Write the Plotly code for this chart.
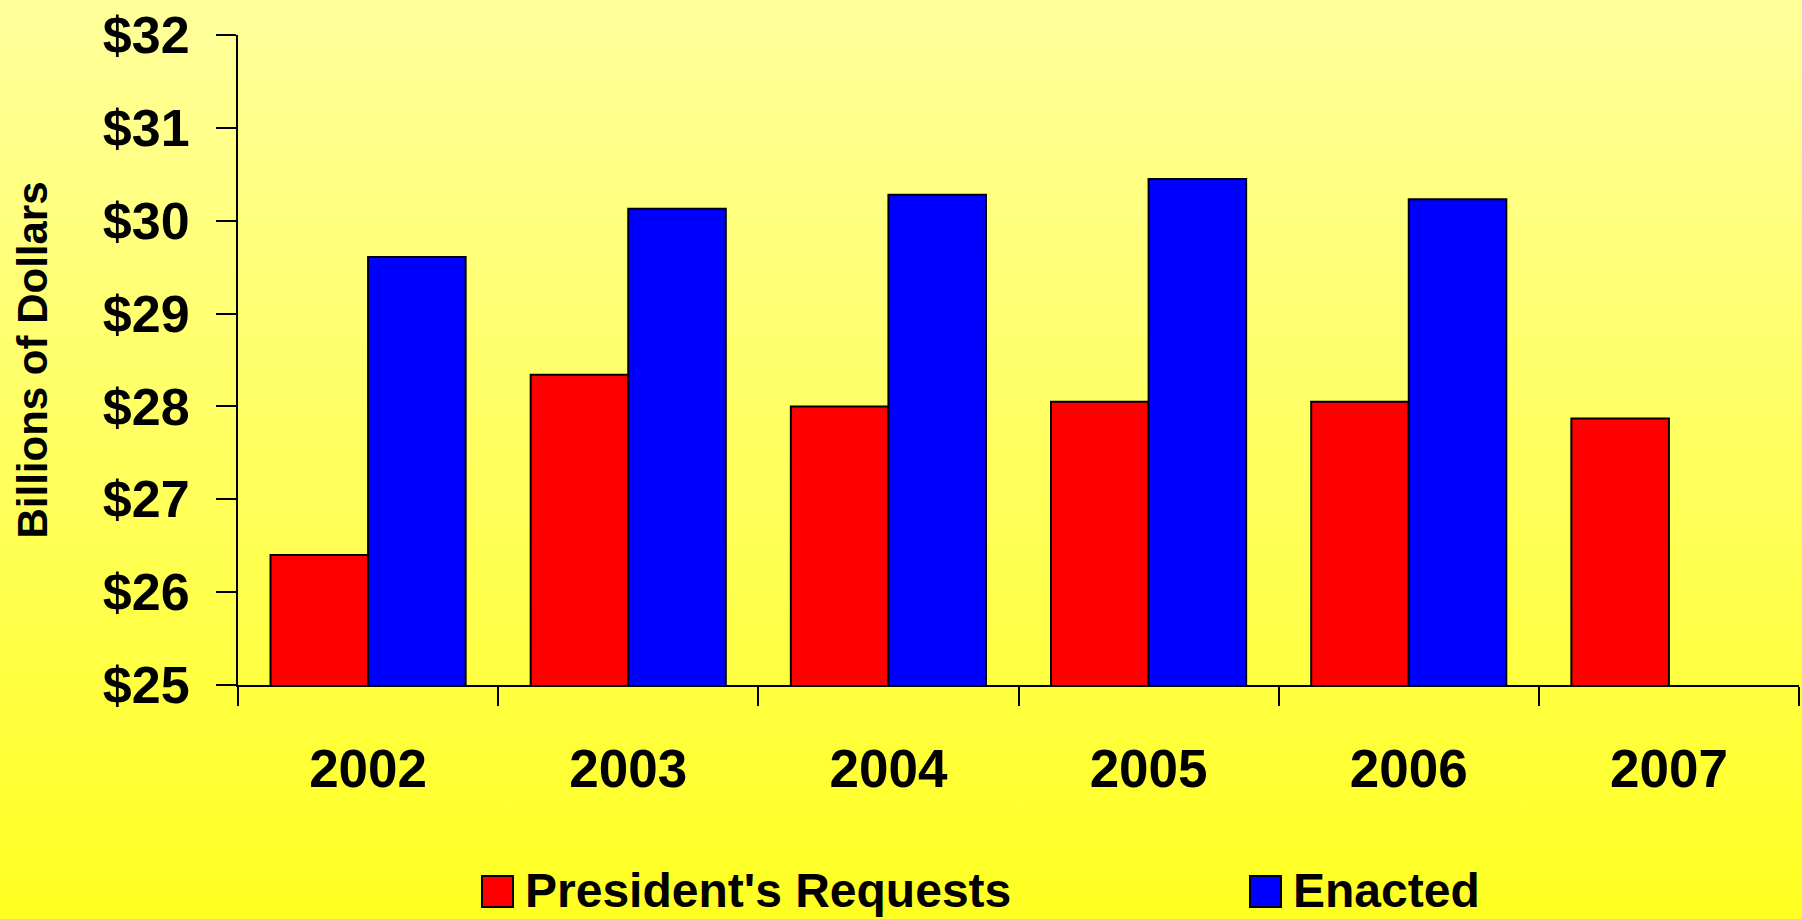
import plotly.graph_objects as go
import urllib.parse

# ---- data ----
years = ["2002", "2003", "2004", "2005", "2006", "2007"]
presidents_requests = [26.40, 28.34, 28.00, 28.05, 28.05, 27.87]
enacted = [29.61, 30.13, 30.28, 30.45, 30.23, None]
series_names = ["President's Requests", "Enacted"]
y_tick_values = [25, 26, 27, 28, 29, 30, 31, 32]
y_tick_labels = ["$25", "$26", "$27", "$28", "$29", "$30", "$31", "$32"]

RED = "#FF0000"
BLUE = "#0000FF"
FONT = "Liberation Sans, Arial, sans-serif"

fig = go.Figure()
fig.add_trace(go.Bar(x=years, y=presidents_requests, name=series_names[0],
                     marker=dict(color=RED, line=dict(color="black", width=2)),
                     showlegend=False))
fig.add_trace(go.Bar(x=years, y=enacted, name=series_names[1],
                     marker=dict(color=BLUE, line=dict(color="black", width=2)),
                     showlegend=False))

# gradient background (yellow, lighter at the top)
svg = ('<svg xmlns="http://www.w3.org/2000/svg" width="100" height="100" preserveAspectRatio="none">'
       '<defs><linearGradient id="g" x1="0" y1="0" x2="0" y2="1">'
       '<stop offset="0" stop-color="#FFFF9C"/><stop offset="1" stop-color="#FFFF22"/>'
       '</linearGradient></defs><rect width="100" height="100" fill="url(#g)"/></svg>')
bg_uri = "data:image/svg+xml;charset=utf-8," + urllib.parse.quote(svg)

W, H = 1802, 919
L, R, T, B = 238, 3, 35, 234
pw, ph = W - L - R, H - T - B

def px_x(x):
    return (x - L) / pw

def px_y(y):
    return (H - B - y) / ph

fig.add_layout_image(dict(source=bg_uri, xref="paper", yref="paper",
                          x=px_x(0), y=px_y(0), sizex=W / pw, sizey=H / ph,
                          xanchor="left", yanchor="top", sizing="stretch", layer="below"))

# manual legend (large square keys as in the original)
legend_items = [(series_names[0], RED, 482, 523), (series_names[1], BLUE, 1250, 1291)]
for name, col, kx, tx in legend_items:
    fig.add_shape(type="rect", xref="paper", yref="paper",
                  x0=px_x(kx), x1=px_x(kx + 31), y0=px_y(876), y1=px_y(907),
                  fillcolor=col, line=dict(color="black", width=2))
    fig.add_annotation(text=name, xref="paper", yref="paper", x=px_x(tx), y=px_y(890),
                       xanchor="left", yanchor="middle", showarrow=False,
                       font=dict(family=FONT, size=48, color="black", weight="bold"))

fig.update_layout(
    width=W, height=H,
    margin=dict(l=L, r=R, t=T, b=B, autoexpand=False),
    paper_bgcolor="#FFFF55",
    plot_bgcolor="rgba(0,0,0,0)",
    barmode="group", bargap=0.25, bargroupgap=0,
    font=dict(family=FONT, color="black"),
    showlegend=False,
)
fig.update_xaxes(
    type="category", tickson="boundaries", ticks="outside", ticklen=19, tickwidth=2,
    tickcolor="black", showline=True, linecolor="black", linewidth=2,
    showgrid=False, zeroline=False, ticklabelstandoff=36,
    tickfont=dict(family=FONT, size=53, color="black", weight="bold"),
)
fig.update_yaxes(
    range=[25, 32], tickvals=y_tick_values, ticktext=y_tick_labels,
    ticks="outside", ticklen=20, tickwidth=2, tickcolor="black",
    showline=True, linecolor="black", linewidth=2, showgrid=False, zeroline=False,
    ticklabelstandoff=16,
    tickfont=dict(family=FONT, size=52, color="black", weight="bold"),
    title=dict(text="Billions of Dollars", standoff=42,
               font=dict(family=FONT, size=42, color="black", weight="bold")),
)

fig.write_html("out.html", config={"displayModeBar": False},
               post_script="document.body.style.margin='0px';")
